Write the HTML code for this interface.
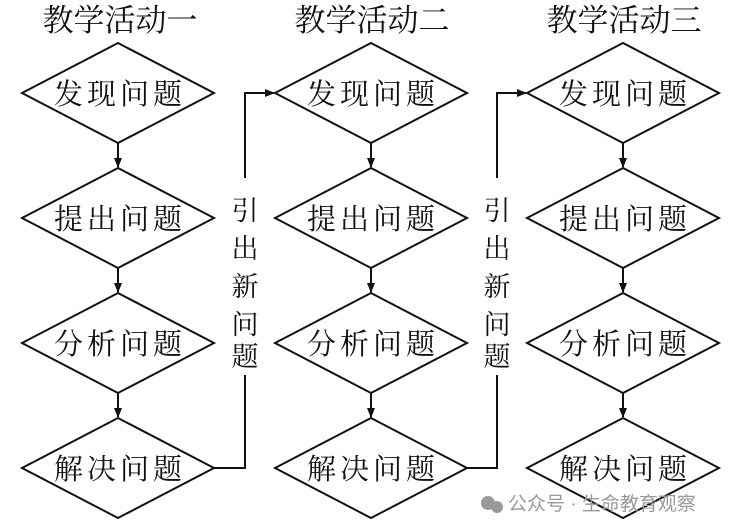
<!DOCTYPE html>
<html><head><meta charset="utf-8"><style>
body{margin:0;background:#fff;}
svg text{font-family:"Liberation Serif","Noto Serif CJK SC",serif;fill:#111;}
</style></head><body>
<svg width="740" height="526" viewBox="0 0 740 526" xmlns="http://www.w3.org/2000/svg">
<defs><marker id="a" markerWidth="10" markerHeight="8" refX="9" refY="4" orient="auto" markerUnits="userSpaceOnUse"><path d="M0,0 L10,4 L0,8 Z" fill="#111"/></marker></defs>
<g font-size="31" text-anchor="middle">
<text x="120" y="31">教学活动一</text>
<text x="372" y="31">教学活动二</text>
<text x="624" y="31">教学活动三</text>
</g>
<g stroke="#111" stroke-width="2" fill="none">
<!-- diamonds -->
<g id="c">
<polygon points="22,93 118,43 214,93 118,143"/>
<polygon points="22,218 118,168 214,218 118,268"/>
<polygon points="22,343 118,293 214,343 118,393"/>
<polygon points="22,468 118,418 214,468 118,518"/>
<line x1="118" y1="143" x2="118" y2="167" marker-end="url(#a)"/>
<line x1="118" y1="268" x2="118" y2="292" marker-end="url(#a)"/>
<line x1="118" y1="393" x2="118" y2="417" marker-end="url(#a)"/>
</g>
<use href="#c" x="253"/>
<use href="#c" x="505"/>
<polyline points="214,468 245,468 245,375"/>
<polyline points="245,178 245,93 274,93" marker-end="url(#a)"/>
<polyline points="467,468 497,468 497,375"/>
<polyline points="497,178 497,93 526,93" marker-end="url(#a)"/>
</g>
<g font-size="29" text-anchor="middle" letter-spacing="4">
<text x="120" y="104">发现问题</text><text x="120" y="229">提出问题</text><text x="120" y="354">分析问题</text><text x="120" y="479">解决问题</text>
<text x="373" y="104">发现问题</text><text x="373" y="229">提出问题</text><text x="373" y="354">分析问题</text><text x="373" y="479">解决问题</text>
<text x="625" y="104">发现问题</text><text x="625" y="229">提出问题</text><text x="625" y="354">分析问题</text><text x="625" y="479">解决问题</text>
</g>
<g font-size="27" text-anchor="middle">
<text x="245" y="220">引</text><text x="245" y="258">出</text><text x="245" y="296">新</text><text x="245" y="334">问</text><text x="245" y="366">题</text>
<text x="497" y="220">引</text><text x="497" y="258">出</text><text x="497" y="296">新</text><text x="497" y="334">问</text><text x="497" y="366">题</text>
</g>
<g fill="#999"><circle cx="488" cy="503" r="7"/><circle cx="497" cy="507" r="6"/></g>
<text x="508" y="510" font-size="19" style="font-family:'Liberation Sans','Noto Sans CJK SC',sans-serif;fill:#9a9a9a">公众号 · 生命教育观察</text>
</svg>
</body></html>
